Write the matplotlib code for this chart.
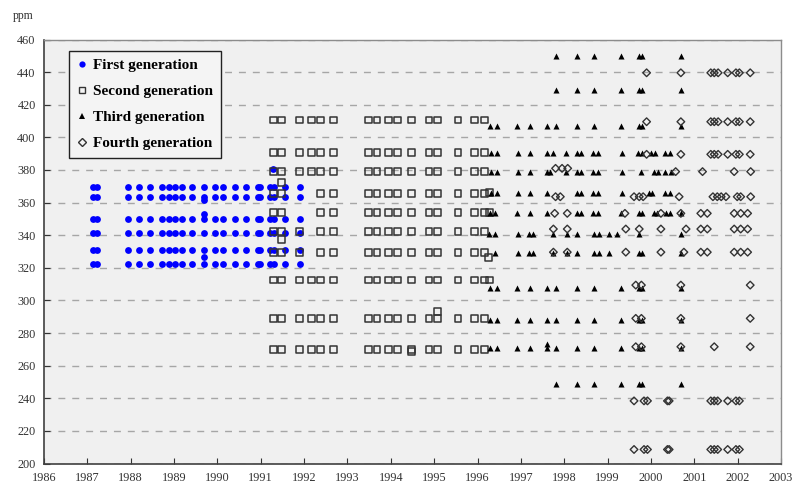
import matplotlib
matplotlib.use("Agg")
import matplotlib.pyplot as plt
from matplotlib.lines import Line2D

plt.rcParams['font.family'] = ['Liberation Serif', 'DejaVu Serif']

# ---- first generation (blue dots) ----
first_levels = [369.7, 363.2, 349.7, 341.1, 330.9, 322.5]
first_dates = [1987.14, 1987.22, 1987.93, 1988.19, 1988.44, 1988.72, 1988.89,
               1989.03, 1989.19, 1989.42, 1989.70, 1989.95, 1990.14, 1990.41,
               1990.67, 1990.93, 1990.99, 1991.22, 1991.30, 1991.57, 1991.91]
first_extra_dates = [1989.70, 1989.70, 1989.70, 1991.28]
first_extra_ppm = [361.5, 353.0, 326.5, 380.6]

# ---- second generation (open squares) ----
second_levels_full = [410.6, 390.8, 378.9, 312.5, 289.0, 270.0]
second_dates_full = [1991.30, 1991.47, 1991.89, 1992.18, 1992.37, 1992.67,
                     1993.49, 1993.68, 1993.95, 1994.15, 1994.48, 1994.88,
                     1995.07, 1995.55, 1995.93, 1996.16]
second_levels_mid = [365.6, 354.0]
second_dates_mid = [1991.30, 1991.47, 1992.37, 1992.67, 1993.49, 1993.68,
                    1993.95, 1994.15, 1994.48, 1994.88, 1995.07, 1995.55,
                    1995.93, 1996.16]
second_levels_low = [342.1, 329.2]
second_dates_low = [1991.30, 1991.47, 1991.89, 1992.37, 1992.67, 1993.49,
                    1993.68, 1993.95, 1994.15, 1994.48, 1994.88, 1995.07,
                    1995.55, 1995.93, 1996.16]
second_extra_dates = [1991.47, 1991.47, 1996.27, 1996.27, 1996.27, 1996.25,
                      1995.07, 1994.48]
second_extra_ppm = [372.5, 337.5, 366.0, 354.0, 312.5, 326.5, 293.0, 268.9]

# ---- third generation (filled triangles) ----
third_levels_outer = [450.0, 429.0, 248.5]
third_dates_outer = [1997.80, 1998.30, 1998.69, 1999.32, 1999.72, 1999.80,
                     2000.70]
third_levels_main = [407.0, 307.4, 288.3, 270.6]
third_dates_main = [1996.28, 1996.45, 1996.90, 1997.22, 1997.61, 1997.80,
                    1998.30, 1998.69, 1999.32, 1999.72, 1999.80, 2000.70]
third_dates_390 = [1996.30, 1996.45, 1996.93, 1997.20, 1997.61, 1997.73,
                   1998.03, 1998.30, 1998.38, 1998.66, 1998.78, 1999.33,
                   1999.69, 1999.80, 1999.99, 2000.09, 2000.33, 2000.45]
third_dates_379 = [1996.30, 1996.45, 1996.93, 1997.20, 1997.61, 1997.68,
                   1998.03, 1998.30, 1998.38, 1998.66, 1998.78, 1999.33,
                   1999.76, 2000.06, 2000.17, 2000.32, 2000.46]
third_dates_366 = [1996.30, 1996.45, 1996.93, 1997.20, 1997.61, 1998.30,
                   1998.38, 1998.66, 1998.78, 1999.33, 1999.96, 2000.03,
                   2000.33, 2000.45]
third_dates_353 = [1996.28, 1996.41, 1996.90, 1997.21, 1997.61, 1998.30,
                   1998.38, 1998.66, 1998.78, 1999.30, 1999.72, 1999.80,
                   2000.07, 2000.15, 2000.34, 2000.45, 2000.70]
third_dates_341 = [1996.26, 1996.41, 1996.93, 1997.18, 1997.28, 1997.75,
                   1998.07, 1998.30, 1998.69, 1998.80, 1999.03, 1999.22,
                   1999.72, 2000.70]
third_dates_329 = [1996.41, 1996.93, 1997.18, 1997.28, 1997.75, 1998.07,
                   1998.30, 1998.69, 1998.80, 1999.03, 1999.72, 1999.80,
                   2000.70]
third_extra_dates = [1997.61]
third_extra_ppm = [273.5]

# ---- fourth generation (open diamonds) ----
fourth_levels_top = [439.6, 409.6, 389.6]
fourth_dates_top = [1999.90, 2000.69, 2001.38, 2001.46, 2001.55, 2001.77,
                    2001.96, 2002.04, 2002.29]
fourth_dates_381 = [1997.80, 1997.95, 1998.08]
fourth_dates_379 = [2000.57, 2001.19, 2001.92, 2002.30]
fourth_dates_364 = [1997.80, 1997.91, 1999.61, 1999.73, 1999.82, 2000.65,
                    2001.43, 2001.53, 2001.62, 2001.73, 2001.99, 2002.07,
                    2002.30]
fourth_dates_353 = [1997.78, 1998.07, 1999.40, 2000.23, 2000.69, 2001.15,
                    2001.30, 2001.92, 2002.07, 2002.23]
fourth_dates_344 = [1997.75, 1998.07, 1999.42, 1999.73, 2000.23, 2000.81,
                    2001.15, 2001.30, 2001.92, 2002.07, 2002.23]
fourth_dates_329 = [1997.75, 1998.07, 1999.42, 2000.23, 2000.76, 2001.15,
                    2001.30, 2001.92, 2002.07, 2002.23]
fourth_levels_mid = [309.4, 289.0, 271.6]
fourth_dates_mid = [1999.65, 1999.78, 2000.69, 2002.29]
fourth_levels_low = [238.4, 208.6]
fourth_dates_low = [1999.61, 1999.84, 1999.92, 2000.38, 2000.42, 2001.38,
                    2001.46, 2001.54, 2001.77, 2001.96, 2002.04]
fourth_extra_dates = [2001.46]
fourth_extra_ppm = [271.6]


def expand(groups, extra_x=(), extra_y=()):
    xs, ys = [], []
    for levels, dates in groups:
        for lv in levels:
            for d in dates:
                xs.append(d)
                ys.append(lv)
    xs += list(extra_x)
    ys += list(extra_y)
    return xs, ys


x1, y1 = expand([(first_levels, first_dates)], first_extra_dates, first_extra_ppm)
x2, y2 = expand([(second_levels_full, second_dates_full),
                 (second_levels_mid, second_dates_mid),
                 (second_levels_low, second_dates_low)],
                second_extra_dates, second_extra_ppm)
x3, y3 = expand([(third_levels_outer, third_dates_outer),
                 (third_levels_main, third_dates_main),
                 ([390.2], third_dates_390), ([378.9], third_dates_379),
                 ([365.6], third_dates_366), ([353.4], third_dates_353),
                 ([341.0], third_dates_341), ([328.8], third_dates_329)],
                third_extra_dates, third_extra_ppm)
x4, y4 = expand([(fourth_levels_top, fourth_dates_top),
                 ([381.0], fourth_dates_381), ([379.0], fourth_dates_379),
                 ([363.6], fourth_dates_364), ([353.4], fourth_dates_353),
                 ([343.8], fourth_dates_344), ([329.6], fourth_dates_329),
                 (fourth_levels_mid, fourth_dates_mid),
                 (fourth_levels_low, fourth_dates_low)],
                fourth_extra_dates, fourth_extra_ppm)

fig = plt.figure(figsize=(7.95, 4.88), dpi=100)
ax = fig.add_axes([0.0553, 0.0502, 0.9271, 0.8688])
ax.set_facecolor('#f0f0f0')

ax.scatter(x1, y1, s=24, marker='o', color='#0000ff', linewidths=0, zorder=3)
ax.scatter(x2, y2, s=24, marker='s', facecolors='none', edgecolors='#333333',
           linewidths=1.1, zorder=4)
ax.scatter(x3, y3, s=19, marker='^', color='black', linewidths=0, zorder=5)
ax.scatter(x4, y4, s=15, marker='D', facecolors='none', edgecolors='#333333',
           linewidths=1.0, zorder=6)

ax.set_xlim(1986, 2003)
ax.set_ylim(200, 460)
ax.set_xticks(range(1986, 2004))
ax.set_yticks(range(200, 461, 20))
ax.tick_params(axis='both', direction='in', length=4, labelsize=8.8,
               colors='#333333', pad=6)
ax.yaxis.grid(True, linestyle=(0, (5, 5)), color='#a6a6a6', linewidth=1)
ax.set_axisbelow(True)

for side in ['left', 'bottom']:
    ax.spines[side].set_color('#404040')
    ax.spines[side].set_linewidth(1.2)
for side in ['top', 'right']:
    ax.spines[side].set_color('#8c8c8c')
    ax.spines[side].set_linewidth(1.0)

fig.text(0.016, 0.962, 'ppm', fontsize=8.5, color='#333333')

handles = [
    Line2D([], [], linestyle='none', marker='o', markersize=4.5,
           markerfacecolor='#0000ff', markeredgewidth=0),
    Line2D([], [], linestyle='none', marker='s', markersize=5,
           markerfacecolor='none', markeredgecolor='#333333', markeredgewidth=1),
    Line2D([], [], linestyle='none', marker='^', markersize=4.5,
           markerfacecolor='black', markeredgewidth=0),
    Line2D([], [], linestyle='none', marker='D', markersize=3.8,
           markerfacecolor='none', markeredgecolor='#333333', markeredgewidth=1),
]
labels = ['First generation', 'Second generation', 'Third generation',
          'Fourth generation']
leg = ax.legend(handles, labels, loc='upper left', bbox_to_anchor=(0.034, 0.973),
                borderaxespad=0, frameon=True, fancybox=False, framealpha=1,
                facecolor='#f4f4f4', edgecolor='#222222', handlelength=0.7,
                handletextpad=0.4, labelspacing=0.8, borderpad=0.5,
                prop={'size': 11, 'weight': 'bold'})
leg.get_frame().set_linewidth(1.0)
leg.set_zorder(10)

fig.savefig('out.png', dpi=100)
